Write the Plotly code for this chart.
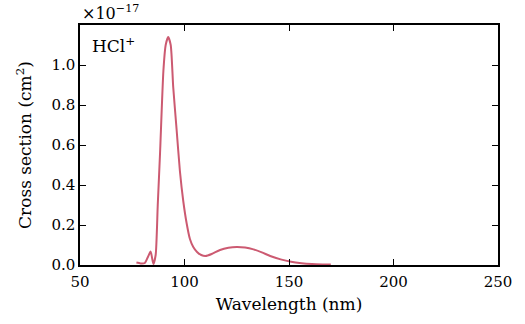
import plotly.graph_objects as go

wavelength = [77, 79, 81, 82.5, 83.8, 85.1, 86.2, 87.2, 88.3, 89.9, 91, 92.2, 93.4, 94.6, 96.2, 97.8,
              99.4, 101, 102.6, 104.2, 106, 108, 110, 113, 117, 121, 125, 129, 133, 137, 141,
              146, 151, 156, 161, 166, 170]
cross_section = [0.012, 0.008, 0.01, 0.04, 0.067, 0.005, 0.05, 0.3, 0.56, 0.97, 1.10, 1.14, 1.10, 0.89,
                 0.68, 0.47, 0.32, 0.21, 0.13, 0.09, 0.065, 0.05, 0.045, 0.055, 0.075, 0.086, 0.09,
                 0.087, 0.078, 0.063, 0.045, 0.028, 0.016, 0.009, 0.005, 0.003, 0.002]
x_ticks = [50, 100, 150, 200, 250]
y_ticks = [0.0, 0.2, 0.4, 0.6, 0.8, 1.0]

FONT = "DejaVu Serif"

fig = go.Figure()
fig.add_trace(go.Scatter(x=wavelength, y=cross_section, mode="lines",
                         line=dict(color="#cc5a71", width=2, shape="spline", smoothing=0.6),
                         showlegend=False))

axis_common = dict(showgrid=False, zeroline=False, showline=True, linecolor="black", linewidth=1.5,
                   mirror="allticks", ticks="inside", ticklen=6, tickwidth=1.2, tickcolor="black",
                   tickfont=dict(family=FONT, size=15, color="black"))
fig.update_xaxes(range=[50, 250], tickvals=x_ticks, ticktext=[str(v) for v in x_ticks],
                 ticklabelstandoff=2,
                 title=dict(text="Wavelength (nm)", font=dict(family=FONT, size=17, color="black"), standoff=8),
                 **axis_common)
fig.update_yaxes(range=[0, 1.2], tickvals=y_ticks, ticktext=[f"{v:.1f}" for v in y_ticks],
                 title=dict(text="Cross section (cm<sup>2</sup>)", font=dict(family=FONT, size=17, color="black"), standoff=15),
                 **axis_common)

fig.add_annotation(x=0, y=1, xref="paper", yref="paper", xanchor="left", yanchor="bottom",
                   text="×10<sup>−17</sup>", showarrow=False, yshift=0,
                   font=dict(family=FONT, size=16, color="black"))
fig.add_annotation(x=0.025, y=0.97, xref="paper", yref="paper", xanchor="left", yanchor="top",
                   text="HCl<sup>+</sup>", showarrow=False,
                   font=dict(family=FONT, size=17, color="black"))

fig.update_layout(width=525, height=324, margin=dict(l=80, r=27, t=25, b=59),
                  plot_bgcolor="white", paper_bgcolor="white")
fig.write_html("out.html")
